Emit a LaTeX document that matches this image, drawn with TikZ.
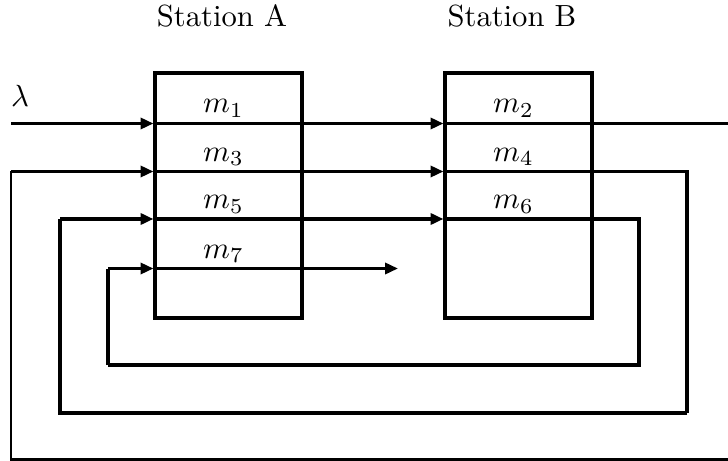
\documentclass[tikz,border=0pt]{standalone}
\usetikzlibrary{arrows.meta}
\begin{document}
\begin{tikzpicture}[x=0.3268pt,y=-0.3268pt,
  station/.style={draw,line width=1pt,minimum width=48.04pt,minimum height=80.07pt,inner sep=0pt},
  flow/.style={line width=1pt},
  thinflow/.style={line width=0.85pt},
  thickflow/.style={line width=1.3pt},
  tip/.style={-{Triangle[length=4.2pt,width=3.6pt]}},
  lab/.style={anchor=base,inner sep=0pt}]
\useasboundingbox (0,0) rectangle (728,461);
% stations
\node[station] (A) at (228.5,195.5) {};
\node[station] (B) at (518.5,195.5) {};
\node[lab] (tA) at (222,27) {Station A};
\node[lab] (tB) at (512,27) {Station B};
% row coordinates on the station edges
\coordinate (A1) at (A.west |- 0,123.5);
\coordinate (B1) at (B.west |- 0,123.5);
\coordinate (A3) at (A.west |- 0,171.5);
\coordinate (B3) at (B.west |- 0,171.5);
\coordinate (A5) at (A.west |- 0,219);
\coordinate (B5) at (B.west |- 0,219);
\coordinate (A7) at (A.west |- 0,268.5);
% free ends and corners
\coordinate (in) at (11,123.5);
\coordinate (out) at (728,123.5);
\coordinate (ret) at (728,459.5);
\coordinate (c1) at (11,459.5);
\coordinate (c2) at (11,171.5);
\coordinate (c3) at (687,171.5);
\coordinate (c4) at (687,413);
\coordinate (c5) at (60,413);
\coordinate (c6) at (60,219);
\coordinate (c7) at (639,219);
\coordinate (c8) at (639,365);
\coordinate (c9) at (108,365);
\coordinate (c10) at (108,268.5);
\coordinate (end7) at (398,268.5);
% labels
\node[lab] (lam) at (20,107) {$\lambda$};
\node[lab] (m1) at (223.5,113) {$m_1$};
\node[lab] (m2) at (513.5,113) {$m_2$};
\node[lab] (m3) at (223.5,161) {$m_3$};
\node[lab] (m4) at (513.5,161) {$m_4$};
\node[lab] (m5) at (223.5,209) {$m_5$};
\node[lab] (m6) at (513.5,209) {$m_6$};
\node[lab] (m7) at (223.5,258) {$m_7$};
% row 1
\draw[flow,tip] (in) -- (A1);
\draw[flow,tip] (A1) -- (B1);
\draw[flow] (B1) -- (out);
% row 3 loop
\draw[thinflow] (ret) -- (c1) -- (c2);
\draw[flow,tip] (c2) -- (A3);
\draw[flow,tip] (A3) -- (B3);
\draw[flow] (B3) -- (c3) -- (c4);
\draw[thickflow] (c4) -- (c5) -- (c6);
% row 5 loop
\draw[thickflow,tip] (c6) -- (A5);
\draw[thickflow,tip] (A5) -- (B5);
\draw[thickflow] (B5) -- (c7) -- (c8) -- (c9);
\draw[flow] (c9) -- (c10);
% row 7
\draw[flow,tip] (c10) -- (A7);
\draw[flow,tip] (A7) -- (end7);
\end{tikzpicture}
\end{document}
